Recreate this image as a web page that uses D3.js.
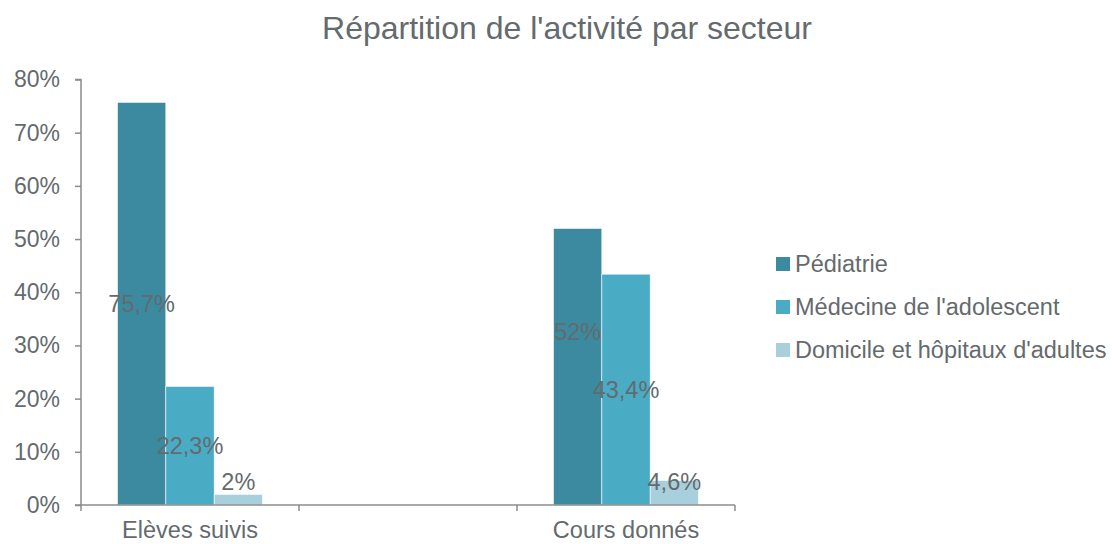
<!DOCTYPE html>
<html>
<head>
<meta charset="utf-8">
<script src="https://cdn.jsdelivr.net/npm/d3@7"></script>
<style>
  body { margin: 0; background: #fff; }
  svg text { font-family: "Liberation Sans", Arial, sans-serif; fill: #646a6d; }
</style>
</head>
<body>
<svg id="chart" width="1112" height="544"></svg>
<script>
// categories (middle slot is an empty spacer row, as in the source sheet)
var categories = ["Elèves suivis", "", "Cours donnés"];
var seriesNames = ["Pédiatrie", "Médecine de l'adolescent", "Domicile et hôpitaux d'adultes"];
var pediatrie = [75.7, null, 52];
var medecine = [22.3, null, 43.4];
var domicile = [2, null, 4.6];
var yTicks = [0, 10, 20, 30, 40, 50, 60, 70, 80];
var colors = ["#3b8aa0", "#4aabc5", "#a8cfdc"];

var series = [pediatrie, medecine, domicile];
var svg = d3.select("#chart");

var x = d3.scaleBand().domain(d3.range(categories.length)).range([81, 735]);
var xs = d3.scaleBand().domain(d3.range(series.length)).range([0, x.bandwidth()]).paddingOuter(0.755).paddingInner(0);
var y = d3.scaleLinear().domain([0, 80]).range([505, 79.5]);

// title
svg.append("text")
  .attr("x", 567).attr("y", 39)
  .attr("text-anchor", "middle")
  .style("font-size", "32px")
  .text("Répartition de l'activité par secteur");

// y axis
var yAxis = svg.append("g")
  .attr("transform", "translate(81,0)")
  .call(d3.axisLeft(y).tickValues(yTicks).tickSize(6).tickPadding(15).tickFormat(function (d) { return d + "%"; }));
yAxis.selectAll("path, line").style("stroke", "#8c8c8c").style("stroke-width", 1.5);
yAxis.select(".domain").attr("d", "M-6,79.5H0V505H-6");
yAxis.selectAll("text").style("font-size", "23px").style("fill", "#646a6d").style("font-family", "Liberation Sans, Arial, sans-serif");

// bars
series.forEach(function (vals, s) {
  svg.append("g").selectAll("rect")
    .data(vals.map(function (v, i) { return { i: i, v: v }; }).filter(function (d) { return d.v !== null; }))
    .enter().append("rect")
    .attr("x", function (d) { return x(d.i) + xs(s); })
    .attr("width", xs.bandwidth())
    .attr("y", function (d) { return y(d.v); })
    .attr("height", function (d) { return y(0) - y(d.v); })
    .style("fill", colors[s])
    .style("stroke", "#fff")
    .style("stroke-width", 0.6);
});

// x axis
var xAxis = svg.append("g")
  .attr("transform", "translate(0,505)")
  .call(d3.axisBottom(x).tickSize(0).tickPadding(16).tickFormat(function (i) { return categories[i]; }));
xAxis.select(".domain").style("stroke", "#8c8c8c").style("stroke-width", 1.5).attr("d", "M81,0H735");
xAxis.selectAll("text").style("font-size", "23.5px").style("fill", "#646a6d").style("font-family", "Liberation Sans, Arial, sans-serif");
var bounds = x.domain().map(function (i) { return x(i); }).concat([x.range()[1]]);
xAxis.selectAll(".bound").data(bounds).enter().append("line")
  .attr("x1", function (d) { return d; }).attr("x2", function (d) { return d; })
  .attr("y1", 0).attr("y2", 6)
  .style("stroke", "#8c8c8c").style("stroke-width", 1.5);

// data labels (centered, kept inside the plot, one nudged as in the source)
var labelNudge = { "0-2": -35 };
series.forEach(function (vals, s) {
  vals.forEach(function (v, i) {
    if (v === null) return;
    var cy = Math.min((y(0) + y(v)) / 2, y(0) - 23) + (labelNudge[s + "-" + i] || 0);
    svg.append("text")
      .attr("x", x(i) + xs(s) + xs.bandwidth() / 2)
      .attr("y", cy)
      .attr("dy", "0.35em")
      .attr("text-anchor", "middle")
      .style("font-size", "23.5px")
      .text(String(v).replace(".", ",") + "%");
  });
});

// legend
var legend = svg.append("g").attr("transform", "translate(776,264)");
seriesNames.forEach(function (name, s) {
  var row = legend.append("g").attr("transform", "translate(0," + (s * 43) + ")");
  row.append("rect").attr("x", 0).attr("y", -7).attr("width", 14).attr("height", 14).style("fill", colors[s]);
  row.append("text").attr("x", 19).attr("y", 0).attr("dy", "0.35em").style("font-size", "23.5px").text(name);
});
</script>
</body>
</html>
